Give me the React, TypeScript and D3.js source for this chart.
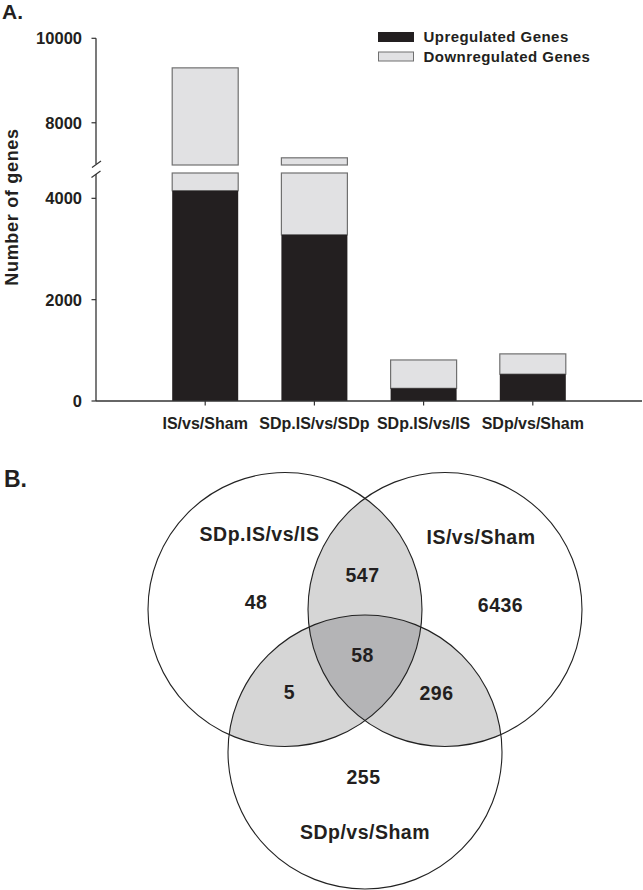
import React from "react";
import * as d3 from "d3";

const categories = ["IS/vs/Sham", "SDp.IS/vs/SDp", "SDp.IS/vs/IS", "SDp/vs/Sham"];
const upregulated = [4150, 3280, 250, 530];
const downregulated = [5150, 3890, 560, 400];
const lowTicks = [0, 2000, 4000];
const highTicks = [8000, 10000];
const legendLabels = ["Upregulated Genes", "Downregulated Genes"];

const vennSets = ["SDp.IS/vs/IS", "IS/vs/Sham", "SDp/vs/Sham"];
// region counts: only A, only B, only C, A∩B, A∩C, B∩C, A∩B∩C
const vennRegionLabels = ["48", "6436", "255", "547", "5", "296", "58"];

const FONT = "'Liberation Sans', Arial, Helvetica, sans-serif";
const INK = "#231f20";
const BLACK = "#231f20";
const GREY = "#e1e1e3";
const GREY_STROKE = "#707070";

export default function App() {
  const W = 643, H = 890;
  const x = d3.scaleLinear().domain([0, 5]).range([96, 642]);
  const yLow = d3.scaleLinear().domain([0, 4500]).range([401, 173]);
  const yHigh = d3.scaleLinear().domain([7000, 10000]).range([165, 38.3]);
  const barW = 66;
  const lowMax = 4500, highMin = 7000;

  // Venn layout
  const r = 137;
  const vc = [
    { cx: 285, cy: 609.5 },
    { cx: 445, cy: 609.5 },
    { cx: 365, cy: 752 },
  ];
  const setLabelPos = [
    { x: 259.5, y: 541 },
    { x: 481, y: 543.5 },
    { x: 365, y: 838.5 },
  ];
  const regionPos = [
    { x: 256, y: 608.5 },
    { x: 500.5, y: 611.5 },
    { x: 363.5, y: 784 },
    { x: 362.5, y: 581.5 },
    { x: 289.5, y: 698.5 },
    { x: 436.5, y: 700 },
    { x: 362.5, y: 661.5 },
  ];

  return (
    <svg width={W} height={H} style={{ position: "absolute", left: 0, top: 0, background: "#fff" }} fontFamily={FONT}>
      <defs>
        {vc.map((c, i) => (
          <clipPath id={`clip${i}`} key={i}>
            <circle cx={c.cx} cy={c.cy} r={r} />
          </clipPath>
        ))}
      </defs>
      {/* Panel labels */}
      <text x={2} y={18.5} fontSize={21} fontWeight="bold" fill={INK}>A.</text>
      <text x={4} y={486.5} fontSize={23} fontWeight="bold" fill={INK}>B.</text>

      {/* Bars */}
      {categories.map((c, i) => {
        const cx = x(i + 1);
        const total = upregulated[i] + downregulated[i];
        const lowTop = Math.min(total, lowMax);
        return (
          <g key={c}>
            <rect x={cx - barW / 2} y={yLow(lowTop)} width={barW} height={yLow(upregulated[i]) - yLow(lowTop)}
              fill={GREY} stroke={GREY_STROKE} strokeWidth={1.2} />
            <rect x={cx - barW / 2} y={yLow(upregulated[i])} width={barW} height={yLow(0) - yLow(upregulated[i])} fill={BLACK} />
            {total > highMin && (
              <rect x={cx - barW / 2} y={yHigh(total)} width={barW} height={yHigh(highMin) - yHigh(total)}
                fill={GREY} stroke={GREY_STROKE} strokeWidth={1.2} />
            )}
          </g>
        );
      })}

      {/* Y axis */}
      <line x1={96} x2={96} y1={yHigh(10000)} y2={yHigh(highMin) - 1} stroke="#333" strokeWidth={1.3} />
      <line x1={96} x2={96} y1={yLow(lowMax) + 1} y2={yLow(0)} stroke="#333" strokeWidth={1.3} />
      <line x1={92} y1={167.5} x2={101} y2={161} stroke="#333" strokeWidth={1.2} />
      <line x1={91.5} y1={177.5} x2={100.5} y2={171} stroke="#333" strokeWidth={1.2} />
      {lowTicks.map((t) => (
        <g key={t}>
          <line x1={91.5} x2={96} y1={yLow(t)} y2={yLow(t)} stroke="#333" strokeWidth={1.2} />
          <text x={82} y={yLow(t)} dy="0.36em" textAnchor="end" fontSize={16.5} fontWeight="bold" fill={INK}>{t}</text>
        </g>
      ))}
      {highTicks.map((t) => (
        <g key={t}>
          <line x1={91.5} x2={96} y1={yHigh(t)} y2={yHigh(t)} stroke="#333" strokeWidth={1.2} />
          <text x={82} y={yHigh(t)} dy="0.36em" textAnchor="end" fontSize={16.5} fontWeight="bold" fill={INK}>{t}</text>
        </g>
      ))}
      <text transform="translate(18,207) rotate(-90)" textAnchor="middle" fontSize={18} fontWeight="bold" fill={INK} letterSpacing={0.7}>Number of genes</text>

      {/* X axis */}
      <line x1={96} x2={642} y1={yLow(0)} y2={yLow(0)} stroke="#333" strokeWidth={1.3} />
      {categories.map((c, i) => (
        <g key={c}>
          <line x1={x(i + 1)} x2={x(i + 1)} y1={yLow(0)} y2={yLow(0) + 4.5} stroke="#333" strokeWidth={1.2} />
          <text x={x(i + 1)} y={428.5} textAnchor="middle" fontSize={16} fontWeight="bold" fill={INK}>{c}</text>
        </g>
      ))}

      {/* Legend */}
      {legendLabels.map((l, i) => (
        <g key={l}>
          <rect x={378.5} y={32.5 + i * 19.5} width={35} height={9} fill={i === 0 ? BLACK : GREY}
            stroke={i === 0 ? BLACK : GREY_STROKE} strokeWidth={1} />
          <text x={423.5} y={42 + i * 19.5} fontSize={15} fontWeight="bold" fill={INK} letterSpacing={0.45}>{l}</text>
        </g>
      ))}

      {/* Venn */}
      <g clipPath="url(#clip0)">
        <circle cx={vc[1].cx} cy={vc[1].cy} r={r} fill="#d6d6d6" />
        <circle cx={vc[2].cx} cy={vc[2].cy} r={r} fill="#d6d6d6" />
      </g>
      <g clipPath="url(#clip1)">
        <circle cx={vc[2].cx} cy={vc[2].cy} r={r} fill="#d6d6d6" />
      </g>
      <g clipPath="url(#clip0)">
        <g clipPath="url(#clip1)">
          <circle cx={vc[2].cx} cy={vc[2].cy} r={r} fill="#b4b4b6" />
        </g>
      </g>
      {vc.map((c, i) => (
        <circle key={i} cx={c.cx} cy={c.cy} r={r} fill="none" stroke="#222" strokeWidth={1.1} />
      ))}
      {vennSets.map((s, i) => (
        <text key={s} x={setLabelPos[i].x} y={setLabelPos[i].y} textAnchor="middle" fontSize={19.5} fontWeight="bold"
          fill={INK} letterSpacing={0.5}>{s}</text>
      ))}
      {vennRegionLabels.map((v, i) => (
        <text key={i} x={regionPos[i].x} y={regionPos[i].y} textAnchor="middle" fontSize={19.5} fontWeight="bold"
          fill={INK} letterSpacing={0.5}>{v}</text>
      ))}
    </svg>
  );
}
